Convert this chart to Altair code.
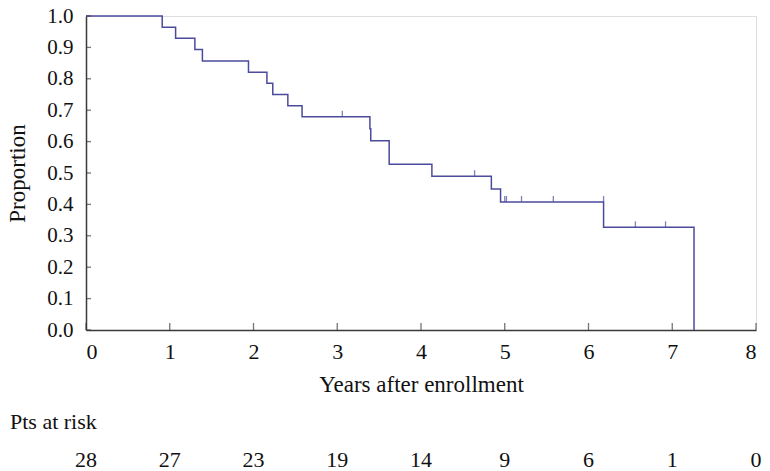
import altair as alt
import pandas as pd

# Kaplan-Meier step points
times = [0, 0.91, 1.07, 1.30, 1.39, 1.94, 2.16, 2.23, 2.41, 2.58, 3.39, 3.40, 3.62, 4.13, 4.84, 4.95, 6.18, 7.26]
surv = [1.0, 0.964, 0.929, 0.893, 0.857, 0.821, 0.786, 0.750, 0.714, 0.679, 0.641, 0.603, 0.528, 0.490, 0.449, 0.408, 0.327, 0.0]

# censored observations
censor_t = [3.06, 4.64, 5.00, 5.02, 5.20, 5.58, 6.18, 6.56, 6.92]
censor_s = [0.679, 0.490, 0.408, 0.408, 0.408, 0.408, 0.408, 0.327, 0.327]

# axis ticks
x_ticks = [0, 1, 2, 3, 4, 5, 6, 7, 8]
y_ticks = [0.0, 0.1, 0.2, 0.3, 0.4, 0.5, 0.6, 0.7, 0.8, 0.9, 1.0]

# patients at risk
risk_years = [0, 1, 2, 3, 4, 5, 6, 7, 8]
risk_n = [28, 27, 23, 19, 14, 9, 6, 1, 0]
risk_label = ["Pts at risk"]

FONT = "Liberation Serif"
LINE = "#4b4b9e"
AX = "#3a3a3a"
TXT = "#111111"

km = pd.DataFrame({"t": times, "s": surv})
cens = pd.DataFrame({"t": censor_t, "s": censor_s})
xt = pd.DataFrame({"v": x_ticks})
yt = pd.DataFrame({"v": y_ticks})
risk = pd.DataFrame({"year": risk_years, "n": risk_n})
risk_lab = pd.DataFrame({"label": risk_label})

xscale = alt.Scale(domain=[0, 8], nice=False, zero=False)
yscale = alt.Scale(domain=[0, 1], nice=False)

xaxis = alt.Axis(values=x_ticks, format="d", tickSize=0, grid=False, labelOverlap=False,
                 domainColor=AX, domainWidth=1.5, labelFont=FONT, labelFontSize=22,
                 labelColor=TXT, labelPadding=11, title="Years after enrollment",
                 titleFont=FONT, titleFontSize=23, titleFontWeight="normal",
                 titleColor=TXT, titlePadding=11)
yaxis = alt.Axis(values=y_ticks, format=".1f", tickSize=0, grid=False, labelOverlap=False,
                 labelSeparation=0, labelBound=False,
                 domainColor=AX, domainWidth=1.5, labelFont=FONT, labelFontSize=21,
                 labelColor=TXT, labelPadding=13, title="Proportion",
                 titleFont=FONT, titleFontSize=23, titleFontWeight="normal",
                 titleColor=TXT, titlePadding=17)

line = alt.Chart(km).mark_line(interpolate="step-after", color=LINE, strokeWidth=1.5).encode(
    x=alt.X("t:Q", scale=xscale, axis=xaxis),
    y=alt.Y("s:Q", scale=yscale, axis=yaxis),
)

censor = alt.Chart(cens).mark_tick(orient="vertical", size=6, thickness=1.3,
                                   color=LINE, yOffset=-3).encode(
    x=alt.X("t:Q", scale=xscale, axis=xaxis),
    y=alt.Y("s:Q", scale=yscale, axis=yaxis),
)

xtick_marks = alt.Chart(xt).mark_tick(orient="vertical", size=7, thickness=1.3,
                                      color=AX, yOffset=-3.5).encode(
    x=alt.X("v:Q", scale=xscale, axis=xaxis),
    y=alt.datum(0, scale=yscale, axis=yaxis),
)

ytick_marks = alt.Chart(yt).mark_tick(orient="horizontal", size=5, thickness=1.3,
                                      color=AX, xOffset=2.5).encode(
    y=alt.Y("v:Q", scale=yscale, axis=yaxis),
    x=alt.datum(0, scale=xscale, axis=xaxis),
)

risk_nums = alt.Chart(risk).mark_text(font=FONT, fontSize=22, color=TXT,
                                      baseline="alphabetic", align="center").encode(
    x=alt.X("year:Q", scale=xscale, axis=xaxis),
    y=alt.value(451),
    text="n:N",
)

risk_title = alt.Chart(risk_lab).mark_text(font=FONT, fontSize=22, color=TXT,
                                           baseline="alphabetic", align="left").encode(
    x=alt.value(-76),
    y=alt.value(413),
    text="label:N",
)

chart = alt.layer(line, censor, xtick_marks, ytick_marks, risk_nums, risk_title).properties(
    width=670, height=314,
    autosize=alt.AutoSizeParams(type="none"),
    padding={"left": 78, "top": 8, "right": 6, "bottom": 141},
).configure_view(stroke=None).configure_axisY(labelOverlap=False).configure(background="white")

chart.save("out.html", embed_options={"renderer": "svg", "actions": False})
